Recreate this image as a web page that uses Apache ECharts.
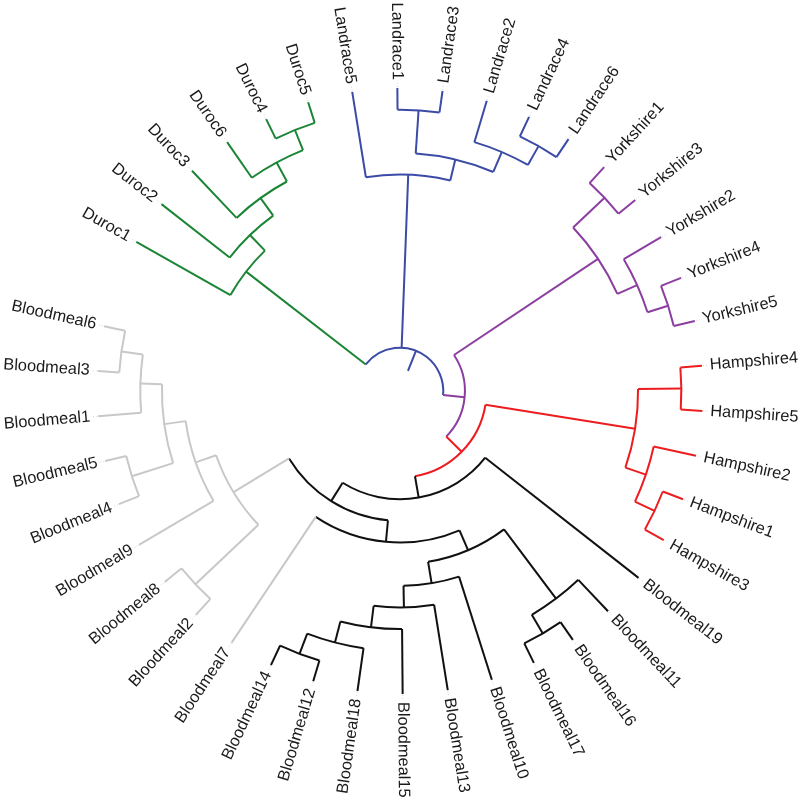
<!DOCTYPE html>
<html>
<head>
<meta charset="utf-8">
<script src="https://cdn.jsdelivr.net/npm/echarts@6/dist/echarts.min.js"></script>
<style>
html, body { margin: 0; padding: 0; background: #fff; }
#main { width: 800px; height: 801px; }
</style>
</head>
<body>
<div id="main"></div>
<script>
// clades, leaves listed clockwise (starting at Duroc1)
var durocClade = ['Duroc1', ['Duroc2', ['Duroc3', ['Duroc6', ['Duroc4', 'Duroc5']]]]];
var landraceClade = ['Landrace5', [['Landrace1', 'Landrace3'], ['Landrace2', ['Landrace4', 'Landrace6']]]];
var yorkshireClade = [['Yorkshire1', 'Yorkshire3'], ['Yorkshire2', ['Yorkshire4', 'Yorkshire5']]];
var hampshireClade = [['Hampshire4', 'Hampshire5'], ['Hampshire2', ['Hampshire1', 'Hampshire3']]];
var bloodBlack = [['Bloodmeal11', ['Bloodmeal16', 'Bloodmeal17']],
    ['Bloodmeal10', ['Bloodmeal13', ['Bloodmeal15', ['Bloodmeal18', ['Bloodmeal12', 'Bloodmeal14']]]]]];
var bloodGrey = [['Bloodmeal2', 'Bloodmeal8'],
    ['Bloodmeal9', [['Bloodmeal4', 'Bloodmeal5'], ['Bloodmeal1', ['Bloodmeal3', 'Bloodmeal6']]]]];
var tree = [durocClade, landraceClade,
    [yorkshireClade, [hampshireClade, ['Bloodmeal19', [[bloodBlack, 'Bloodmeal7'], bloodGrey]]]]];

// leaves in the light grey cluster
var greyLeaves = ['Bloodmeal7', 'Bloodmeal2', 'Bloodmeal8', 'Bloodmeal9', 'Bloodmeal4',
    'Bloodmeal5', 'Bloodmeal1', 'Bloodmeal3', 'Bloodmeal6'];
var clusterColors = {
    Duroc: '#1b8535',
    Landrace: '#3b4ba6',
    Yorkshire: '#8b3ea0',
    Hampshire: '#ec1c1f',
    Bloodmeal: '#111111',
    grey: '#c8c8c8'
};
var slotCount = 42;   // 41 leaves + one empty slot
var levelMax = 14;

function leafColor(name) {
    if (greyLeaves.indexOf(name) >= 0) return clusterColors.grey;
    return clusterColors[name.replace(/\d+$/, '')];
}

// flatten the tree: level = steps to the farthest leaf, angle = slot
var nodes = [];
var slot = 0;
function build(t, parent) {
    var node = { parent: parent };
    nodes.push(node);
    if (typeof t === 'string') {
        node.name = t;
        node.level = 0;
        node.angle = slot++;
        node.color = leafColor(t);
    } else {
        node.children = t.map(function (c) { return build(c, node); });
        var first = node.children[0], last = node.children[node.children.length - 1];
        node.level = 1 + Math.max.apply(null, node.children.map(function (c) { return c.level; }));
        node.angle = (first.angle + last.angle) / 2;
        var cols = node.children.map(function (c) { return c.color; });
        var pure = cols.every(function (c) { return c === cols[0]; });
        node.color = pure ? cols[0] : cols[Math.floor((cols.length - 1) / 2)];
    }
    return node;
}
build(tree, null);

function renderItem(params, api) {
    var n = nodes[params.dataIndex];
    var cx = params.coordSys.cx, cy = params.coordSys.cy;
    var style = { stroke: n.color, lineWidth: 2, fill: 'none' };
    var els = [];
    var p = api.coord([n.level, n.angle]);
    var q = api.coord([n.parent ? n.parent.level : n.level + 1, n.angle]);
    els.push({ type: 'line', shape: { x1: q[0], y1: q[1], x2: p[0], y2: p[1] }, style: style });
    if (n.children) {
        var a = api.coord([n.level, n.children[0].angle]);
        var b = api.coord([n.level, n.children[n.children.length - 1].angle]);
        var r = Math.sqrt((p[0] - cx) * (p[0] - cx) + (p[1] - cy) * (p[1] - cy));
        var s = Math.atan2(a[1] - cy, a[0] - cx);
        var e = Math.atan2(b[1] - cy, b[0] - cx);
        if (e < s) e += Math.PI * 2;
        els.push({ type: 'arc', shape: { cx: cx, cy: cy, r: r, startAngle: s, endAngle: e, clockwise: true }, style: style });
    } else {
        var dx = p[0] - cx, dy = p[1] - cy;
        var len = Math.sqrt(dx * dx + dy * dy);
        var ux = dx / len, uy = dy / len;
        // faint dotted leader
        els.push({ type: 'line',
            shape: { x1: p[0] + ux, y1: p[1] + uy, x2: p[0] + ux * 7, y2: p[1] + uy * 7 },
            style: { stroke: '#d4d4d4', lineWidth: 1, lineDash: [1, 2] } });
        var deg = Math.atan2(-dy, dx) * 180 / Math.PI;
        var right = deg > -90.01 && deg < 89.99;
        var rot = Math.atan2(-dy, dx) + (right ? 0 : Math.PI);
        els.push({ type: 'text', x: p[0] + ux * 8, y: p[1] + uy * 8, rotation: rot,
            style: { text: n.name, fill: '#1a1a1a', font: '16.4px "Liberation Sans", Arial, sans-serif',
                align: right ? 'left' : 'right', verticalAlign: 'middle' } });
    }
    return { type: 'group', children: els };
}

var myChart = echarts.init(document.getElementById('main'));
var option = {
    animation: false,
    polar: { center: [400, 391], radius: 303 },
    angleAxis: { type: 'value', min: 0, max: slotCount, startAngle: 150.5, clockwise: true, show: false },
    radiusAxis: { type: 'value', min: 0, max: levelMax, inverse: true, show: false },
    series: [{
        type: 'custom',
        coordinateSystem: 'polar',
        renderItem: renderItem,
        data: nodes.map(function (n) { return [n.level, n.angle]; })
    }]
};
myChart.setOption(option);
</script>
</body>
</html>
